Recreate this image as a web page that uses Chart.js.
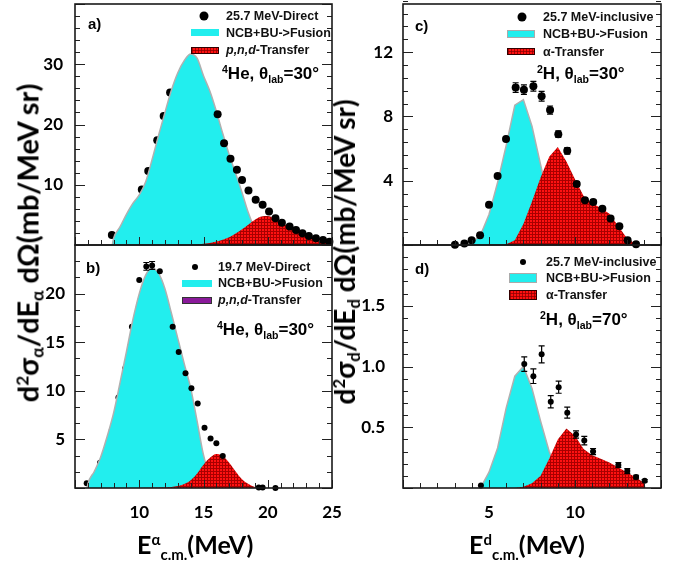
<!DOCTYPE html>
<html><head><meta charset="utf-8">
<script src="https://cdn.jsdelivr.net/npm/chart.js@4.4.1/dist/chart.umd.min.js"></script>
<style>
html,body{margin:0;padding:0;background:#fff;}
#wrap{position:relative;width:690px;height:563px;overflow:hidden;background:#fff;}
canvas{position:absolute;}
.t{position:absolute;white-space:nowrap;font-family:"Liberation Sans",Arial,sans-serif;font-weight:bold;color:#000;line-height:1;transform:translateY(-50%);}
.leg{font-size:12.5px;color:#111;}
.ann{font-size:17px;}
.pl{font-size:15px;}
.t sup{font-size:62%;vertical-align:0;position:relative;top:-0.55em;}
.t sub{font-size:62%;vertical-align:0;position:relative;top:0.35em;}
.ttl{position:absolute;white-space:nowrap;font-family:Lato,"Open Sans",sans-serif;font-weight:bold;font-size:25px;line-height:1;color:#000;}
.ttl sup{font-size:60%;vertical-align:0;position:relative;top:-0.6em;}
.ttl sub{font-size:60%;vertical-align:0;position:relative;top:0.4em;}
.rot sub{top:0.3em;}
.rot{transform:translate(-50%,-50%) rotate(-90deg);}
.box{position:absolute;}
.cy{background:#22eeee;}
.cyb{background:#22eeee;border:1.5px solid #aaa;box-sizing:border-box;}
.rd{background:linear-gradient(90deg,rgba(140,0,0,.75) 1px,transparent 1px) 0 0/3px 3px,linear-gradient(0deg,rgba(140,0,0,.75) 1px,transparent 1px) 0 0/3px 3px,#ff1010;border:1px solid #300;box-sizing:border-box;}
.pu{background:#8a1a9a;border:1px solid #333;box-sizing:border-box;}
.dot{position:absolute;border-radius:50%;background:#000;transform:translate(-50%,-50%);}
</style>
</head><body>
<div id="wrap">
<canvas id="ca" width="345" height="250" style="left:0px;top:0px"></canvas>
<canvas id="cb" width="345" height="300" style="left:0px;top:240px"></canvas>
<canvas id="cc" width="340" height="250" style="left:340px;top:0px"></canvas>
<canvas id="cd" width="340" height="300" style="left:340px;top:240px"></canvas>

<!-- panel a annotations -->
<div class="t pl" style="left:88px;top:23px">a)</div>
<div class="dot" style="left:204px;top:16px;width:9px;height:9px"></div>
<div class="t leg" style="left:226px;top:16px">25.7 MeV-Direct</div>
<div class="box cy" style="left:191px;top:29px;width:28px;height:7px"></div>
<div class="t leg" style="left:226px;top:33px">NCB+BU-&gt;Fusion</div>
<div class="box rd" style="left:191px;top:47px;width:28px;height:7px"></div>
<div class="t leg" style="left:226px;top:50px"><i>p,n,d</i>-Transfer</div>
<div class="t ann" style="left:222px;top:73px"><sup>4</sup>He, θ<sub>lab</sub>=30°</div>

<!-- panel b annotations -->
<div class="t pl" style="left:86px;top:267px">b)</div>
<div class="dot" style="left:195px;top:267px;width:6px;height:6px"></div>
<div class="t leg" style="left:218px;top:267px">19.7 MeV-Direct</div>
<div class="box cy" style="left:182px;top:280px;width:30px;height:7px"></div>
<div class="t leg" style="left:218px;top:283px">NCB+BU-&gt;Fusion</div>
<div class="box pu" style="left:182px;top:297px;width:30px;height:7px"></div>
<div class="t leg" style="left:218px;top:300px"><i>p,n,d</i>-Transfer</div>
<div class="t ann" style="left:217px;top:329px"><sup>4</sup>He, θ<sub>lab</sub>=30°</div>

<!-- panel c annotations -->
<div class="t pl" style="left:415px;top:25px">c)</div>
<div class="dot" style="left:522px;top:17px;width:9px;height:9px"></div>
<div class="t leg" style="left:543px;top:17px">25.7 MeV-inclusive</div>
<div class="box cyb" style="left:507px;top:30px;width:28px;height:8px"></div>
<div class="t leg" style="left:543px;top:34px">NCB+BU-&gt;Fusion</div>
<div class="box rd" style="left:507px;top:48px;width:28px;height:7px"></div>
<div class="t leg" style="left:543px;top:52px">α-Transfer</div>
<div class="t ann" style="left:537px;top:73px"><sup>2</sup>H, θ<sub>lab</sub>=30°</div>

<!-- panel d annotations -->
<div class="t pl" style="left:415px;top:268px">d)</div>
<div class="dot" style="left:523px;top:262px;width:6px;height:6px"></div>
<div class="t leg" style="left:546px;top:262px">25.7 MeV-inclusive</div>
<div class="box cyb" style="left:509px;top:273px;width:28px;height:10px"></div>
<div class="t leg" style="left:546px;top:278px">NCB+BU-&gt;Fusion</div>
<div class="box rd" style="left:509px;top:290px;width:28px;height:10px"></div>
<div class="t leg" style="left:546px;top:295px">α-Transfer</div>
<div class="t ann" style="left:540px;top:319px"><sup>2</sup>H, θ<sub>lab</sub>=70°</div>

<!-- axis titles -->
<div class="ttl rot" style="left:27px;top:243px;font-size:29px">d<sup>2</sup>σ<sub>α</sub>/dE<sub>α</sub> dΩ(mb/MeV sr)</div>
<div class="ttl rot" style="left:344px;top:252px;font-size:28px">d<sup>2</sup>σ<sub>d</sub>/dE<sub>d</sub> dΩ(mb/MeV sr)</div>
<div class="ttl" style="left:137px;top:532px">E<sup>α</sup><sub>c.m.</sub>(MeV)</div>
<div class="ttl" style="left:469px;top:532px">E<sup>d</sup><sub>c.m.</sub>(MeV)</div>
</div>

<script>
// ---------- Panel a : 25.7 MeV, 4He, 30 deg ----------
const aExpE = [7.87,10.2,10.7,11.4,11.9,12.4,16.1,16.6,17.1,17.6,18.0,18.5,19.06,19.6,20.1,20.6,21.1,21.7,22.2,22.7,23.2,23.75,24.3,24.8];
const aExpV = [1.67,9.2,12.3,17.4,21.4,25.3,21.7,16.9,14.3,12.5,10.8,9.05,7.5,6.7,5.55,4.45,3.7,3.05,2.5,1.95,1.5,1.1,0.83,0.55];
const aFusE = [7.9,8.0,8.5,9.0,9.5,10.0,10.5,11.0,11.5,12.0,12.5,13.0,13.5,14.0,14.5,15.0,15.5,16.0,16.5,17.0,17.5,18.0,18.5,19.0,19.5,20.0,20.5];
const aFusV = [0,1.1,3.0,5.1,6.9,8.3,10.5,14.2,18.2,22.0,25.7,28.6,30.6,31.7,31.0,28.1,25.5,22.2,18.5,15.0,11.9,8.7,5.3,2.7,1.2,0.4,0];
const aTrE = [14.0,15.0,16.0,17.0,18.0,18.5,19.0,19.5,20.0,20.5,21.0,21.5,22.0,22.5,23.0,23.5,24.0,24.5,25.0];
const aTrV = [0,0.2,0.6,1.3,2.6,3.4,4.2,4.75,4.8,4.4,3.8,3.2,2.6,2.1,1.7,1.3,1.0,0.7,0.4];

// ---------- Panel b : 19.7 MeV, 4He, 30 deg ----------
const bExpE = [5.91,6.95,7.87,8.38,8.9,9.43,10.0,10.55,11.0,11.6,12.6,13.07,13.6,14.06,14.55,15.08,15.55,16.0,16.5,19.3,19.6,20.6];
const bExpV = [0.5,2.6,6.0,9.3,12.3,16.6,21.4,22.8,22.9,22.3,16.6,14.0,11.8,10.25,8.7,6.2,5.1,4.6,3.3,0.05,0.05,0.0];
const bExpErr = [0,0,0,0,0,0,0,0.4,0.4,0,0,0,0,0,0,0,0,0,0,0,0,0];
const bFusE = [5.95,6.0,6.5,7.0,7.5,8.0,8.5,9.0,9.5,10.0,10.5,11.0,11.5,12.0,12.5,13.0,13.5,14.0,14.5,15.0,15.5,16.0,16.3];
const bFusV = [0,0.4,1.7,3.2,5.3,7.7,10.8,14.0,17.3,20.0,21.9,22.6,22.1,20.5,18.0,15.4,12.8,10.3,6.9,3.4,1.2,0.2,0];
const bTrE = [10.0,12.0,13.0,13.5,14.0,14.5,15.0,15.5,16.0,16.5,17.0,17.5,18.0,18.5,19.0,19.3];
const bTrV = [0,0.05,0.2,0.4,0.8,1.5,2.4,3.1,3.5,3.3,2.6,1.7,0.9,0.4,0.1,0];

// ---------- Panel c : 25.7 MeV, 2H, 30 deg ----------
const cExpE = [3.02,3.57,3.99,4.48,5.0,5.5,5.99,6.55,7.03,7.58,8.06,8.55,9.03,9.55,10.1,10.58,11.06,11.59,12.07,12.58,13.06,13.55];
const cExpV = [0.02,0.1,0.3,0.6,2.5,4.3,6.6,9.8,9.67,9.88,9.26,8.4,6.9,5.86,3.8,2.78,2.67,2.26,1.65,1.17,0.3,0.05];
const cExpErr = [0,0,0,0,0,0,0,0.3,0.3,0.3,0.3,0.25,0.2,0.2,0.15,0.15,0.15,0.1,0.1,0.1,0,0];
const cFusE = [3.7,4.0,4.5,5.0,5.5,6.0,6.5,7.0,7.5,8.0,8.5,9.0,9.5,10.0];
const cFusV = [0,0.15,0.6,1.9,3.9,6.2,8.7,9.05,7.4,5.0,2.6,1.0,0.3,0];
const cTrE = [5.6,6.0,6.5,7.0,7.5,8.0,8.5,9.0,9.5,10.0,10.5,11.0,11.5,12.0,12.5,13.0,13.6];
const cTrV = [0,0.05,0.3,1.3,2.7,4.2,5.5,6.1,5.2,4.1,3.05,2.6,2.3,1.95,1.2,0.45,0];

// ---------- Panel d : 25.7 MeV, 2H, 70 deg ----------
const dExpE = [4.53,7.05,7.58,8.06,8.59,9.05,9.55,10.06,10.54,11.05,12.52,13.04,13.55,14.05];
const dExpV = [0.02,1.02,0.92,1.10,0.71,0.83,0.62,0.44,0.39,0.30,0.19,0.14,0.09,0.06];
const dExpErr = [0,0.06,0.06,0.07,0.05,0.05,0.045,0.03,0.035,0.025,0.02,0.02,0.015,0.01];
const dFusE = [4.5,5.0,5.5,6.0,6.5,7.0,7.5,8.0,8.5,9.0,9.5,10.0];
const dFusV = [0,0.13,0.33,0.66,0.92,1.0,0.82,0.55,0.3,0.12,0.03,0];
const dTrE = [6.5,7.0,7.5,8.0,8.5,9.0,9.5,10.0,10.5,11.0,11.5,12.0,12.5,13.0,13.5,14.05,14.1];
const dTrV = [0,0.01,0.04,0.1,0.24,0.4,0.49,0.43,0.32,0.27,0.24,0.21,0.17,0.13,0.09,0.04,0];

// ---------- tick labels ----------
const xLabelsAlpha = [10,15,20,25];
const xLabelsDeut = [5,10];
const yLabelsA = [10,20,30];
const yLabelsB = [5,10,15,20];
const yLabelsC = [4,8,12];
const yLabelsD = [0.5,1.0,1.5];

const CYAN = '#22eeee';
const pts = (E,V) => E.map((e,i)=>({x:e,y:V[i]}));

function hatch(ctx){
  const c=document.createElement('canvas'); c.width=3; c.height=3;
  const g=c.getContext('2d');
  g.fillStyle='#ff1212'; g.fillRect(0,0,3,3);
  g.fillStyle='#a80000'; g.fillRect(0,0,3,1); g.fillRect(0,0,1,3);
  return ctx.createPattern(c,'repeat');
}

const frameTicks = {
  id:'frameTicks',
  afterDraw(chart, args, o){
    const {ctx, chartArea:{left,right,top,bottom}, scales:{x,y}} = chart;
    ctx.save();
    ctx.strokeStyle='#222'; ctx.lineWidth=1;
    const nx = Math.round((x.max-x.min)/o.xMinor);
    for(let i=0;i<=nx;i++){
      const v = x.min + i*o.xMinor;
      const major = Math.abs(v/o.xMajor-Math.round(v/o.xMajor))<1e-6;
      const px = Math.round(x.getPixelForValue(v))+0.5;
      const L = major?8:5;
      ctx.beginPath(); ctx.moveTo(px,bottom); ctx.lineTo(px,bottom-L); ctx.stroke();
    }
    const ny = Math.round((y.max-y.min)/o.yMinor);
    for(let i=0;i<=ny;i++){
      const v = y.min + i*o.yMinor;
      const major = Math.abs(v/o.yMajor-Math.round(v/o.yMajor))<1e-6;
      const py = Math.round(y.getPixelForValue(v))+0.5;
      const L = major?10:5;
      ctx.beginPath(); ctx.moveTo(left,py); ctx.lineTo(left+L,py); ctx.stroke();
      ctx.beginPath(); ctx.moveTo(right,py); ctx.lineTo(right-L,py); ctx.stroke();
    }
    ctx.lineWidth=1.6; ctx.strokeStyle='#1a1a1a';
    ctx.strokeRect(left,top,right-left,bottom-top);
    ctx.restore();
  }
};

const errBars = {
  id:'errBars',
  afterDatasetsDraw(chart){
    const {ctx, scales:{x,y}} = chart;
    chart.data.datasets.forEach(ds=>{
      if(!ds.errY) return;
      ctx.save(); ctx.strokeStyle='#000'; ctx.lineWidth=1.2;
      ds.data.forEach((p,j)=>{
        const e = ds.errY[j]; if(!e) return;
        const px=x.getPixelForValue(p.x), y1=y.getPixelForValue(p.y-e), y2=y.getPixelForValue(p.y+e);
        ctx.beginPath();
        ctx.moveTo(px,y1); ctx.lineTo(px,y2);
        ctx.moveTo(px-3,y1); ctx.lineTo(px+3,y1);
        ctx.moveTo(px-3,y2); ctx.lineTo(px+3,y2);
        ctx.stroke();
      });
      ctx.restore();
    });
  }
};

function zeroPad(s){ s.paddingTop=0; s.paddingBottom=0; s.paddingLeft=0; s.paddingRight=0; }

function panel(id, c){
  const el = document.getElementById(id);
  const ctx = el.getContext('2d');
  const pat = hatch(ctx);
  // split data points: left of fusion maximum drawn beneath the fusion fill
  let peakE = -Infinity;
  if (c.splitAtPeak){ let m=-1; c.fusE.forEach((e,i)=>{ if(c.fusV[i]>m){m=c.fusV[i]; peakE=e;} }); }
  const exp = pts(c.expE,c.expV);
  const err = c.expErr || c.expE.map(()=>0);
  const under = [], over = [], errOver=[], errUnder=[];
  exp.forEach((p,i)=>{ if(p.x<peakE){ under.push(p); errUnder.push(err[i]); } else { over.push(p); errOver.push(err[i]); } });
  const lineOpts = c.smooth ? {tension:0.4, cubicInterpolationMode:'monotone'} : {tension:0};
  const datasets = [
    {data:over, errY:errOver, pointRadius:c.r, pointBackgroundColor:'#000', pointBorderWidth:0, showLine:false, order:0, clip:false},
    Object.assign({data:pts(c.trE,c.trV), showLine:true, pointRadius:0, borderWidth:0, borderColor:'rgba(0,0,0,0)', backgroundColor:pat, fill:'origin', order:1}, lineOpts),
    Object.assign({data:pts(c.fusE,c.fusV), showLine:true, pointRadius:0, borderWidth:1.5, borderColor:'#b0b0b0', backgroundColor:CYAN, fill:'origin', order:2}, lineOpts),
    {data:under, errY:errUnder, pointRadius:c.r, pointBackgroundColor:'#000', pointBorderWidth:0, showLine:false, order:3, clip:false}
  ];
  const font = {family:'Lato', size:17, weight:'bold'};
  return new Chart(el, {
    type:'scatter',
    data:{datasets},
    options:{
      responsive:false, animation:false, devicePixelRatio:1, events:[],
      layout:{padding:c.padding},
      plugins:{legend:{display:false}, tooltip:{enabled:false}, frameTicks:c.ticks},
      scales:{
        x:{type:'linear', min:c.xmin, max:c.xmax, display:!!c.xLabels,
           grid:{display:false, drawTicks:false}, border:{display:false},
           afterBuildTicks: s=>{ if(c.xLabels) s.ticks = c.xLabels.map(v=>({value:v})); },
           afterFit: s=>{ s.height = c.xh || 0; zeroPad(s); },
           ticks:{padding:14, font, color:'#000', maxRotation:0, autoSkip:false, callback:v=>String(v)}},
        y:{type:'linear', min:c.ymin, max:c.ymax,
           grid:{display:false, drawTicks:false}, border:{display:false},
           afterBuildTicks: s=>{ s.ticks = c.yLabels.map(v=>({value:v})); },
           afterFit: s=>{ s.width = c.yw; zeroPad(s); },
           ticks:{padding:c.ypad, font, color:'#000', autoSkip:false, callback:c.fmt}}
      }
    },
    plugins:[frameTicks, errBars]
  });
}

panel('ca', {expE:aExpE, expV:aExpV, fusE:aFusE, fusV:aFusV, trE:aTrE, trV:aTrV, splitAtPeak:true, smooth:true, r:4,
  xmin:5, xmax:25, ymin:0, ymax:40, yLabels:yLabelsA, fmt:v=>String(v), yw:75, ypad:12,
  padding:{left:0, top:4, right:13, bottom:5}, ticks:{xMinor:1, xMajor:5, yMinor:2, yMajor:10}});
panel('cb', {expE:bExpE, expV:bExpV, expErr:bExpErr, fusE:bFusE, fusV:bFusV, trE:bTrE, trV:bTrV, splitAtPeak:true, smooth:true, r:3,
  xmin:5, xmax:25, ymin:0, ymax:25, yLabels:yLabelsB, fmt:v=>String(v), yw:75, ypad:10, xLabels:xLabelsAlpha, xh:52,
  padding:{left:0, top:5, right:13, bottom:0}, ticks:{xMinor:1, xMajor:5, yMinor:5/3, yMajor:5}});
panel('cc', {expE:cExpE, expV:cExpV, expErr:cExpErr, fusE:cFusE, fusV:cFusV, trE:cTrE, trV:cTrV, splitAtPeak:false, smooth:false, r:4,
  xmin:0, xmax:15, ymin:0, ymax:15, yLabels:yLabelsC, fmt:v=>String(v), yw:63, ypad:10,
  padding:{left:0, top:4, right:19, bottom:5}, ticks:{xMinor:1, xMajor:5, yMinor:0.8, yMajor:4}});
panel('cd', {expE:dExpE, expV:dExpV, expErr:dExpErr, fusE:dFusE, fusV:dFusV, trE:dTrE, trV:dTrV, splitAtPeak:false, smooth:false, r:3,
  xmin:0, xmax:15, ymin:0, ymax:2, yLabels:yLabelsD, fmt:v=>Number(v).toFixed(1), yw:63, ypad:18, xLabels:xLabelsDeut, xh:52,
  padding:{left:0, top:5, right:19, bottom:0}, ticks:{xMinor:1, xMajor:5, yMinor:0.1, yMajor:0.5}});
</script>
</body></html>
